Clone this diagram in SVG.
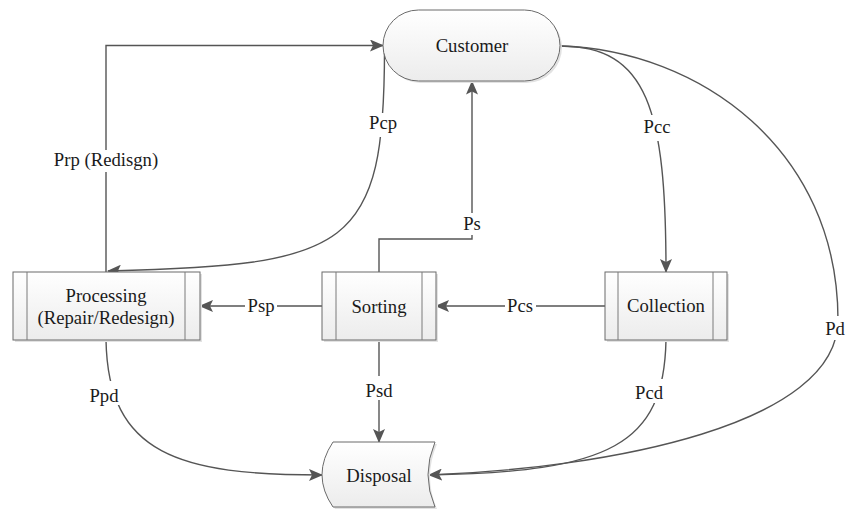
<svg xmlns="http://www.w3.org/2000/svg" width="857" height="509" viewBox="0 0 857 509">
  <defs>
    <linearGradient id="nodeFill" x1="0" y1="0" x2="0" y2="1">
      <stop offset="0" stop-color="#ffffff"/>
      <stop offset="1" stop-color="#ececec"/>
    </linearGradient>
    <marker id="arrow" markerUnits="userSpaceOnUse" markerWidth="14" markerHeight="12" viewBox="0 0 14 12" refX="13" refY="6" orient="auto">
      <path d="M0,0 L14,6 L0,12 L3,6 Z" fill="#555555"/>
    </marker>
  </defs>
  <style>
    .shape { fill: url(#nodeFill); stroke: #6b6b6b; stroke-width: 1; }
    .shadow { fill: #e2e2e2; stroke: none; }
    .inner { stroke: #7a7a7a; stroke-width: 1; fill: none; }
    .edge { fill: none; stroke: #555555; stroke-width: 1.4; }
    .arrowed { marker-end: url(#arrow); }
    .lbl-bg { fill: #ffffff; stroke: none; }
    text { font-family: "Liberation Serif", "Times New Roman", serif; font-size: 18.7px; fill: #1a1a1a; text-anchor: middle; }
  </style>

  <rect width="857" height="509" fill="#ffffff"/>

  <!-- connectors -->
  <g id="connectors">
    <!-- Prp (Redisgn): Processing -> Customer -->
    <path class="edge arrowed" d="M106,272 L106,45.5 L383,45.5"/>
    <!-- Pcp: Customer -> Processing -->
    <path class="edge arrowed" d="M384.5,46 C385,250 350,265 108,271"/>
    <!-- Ps: Sorting -> Customer -->
    <path class="edge arrowed" d="M379,272 L379,239 L472,239 L472,81.5"/>
    <!-- Pcc: Customer -> Collection -->
    <path class="edge arrowed" d="M560,46 C648,46 666,110 666,272"/>
    <!-- Pd: Customer -> Disposal -->
    <path class="edge arrowed" d="M560,46 C700,50 838,150 838,320 C838,425 610,468 429,475"/>
    <!-- Pcs: Collection -> Sorting -->
    <path class="edge arrowed" d="M605,306 L436,306"/>
    <!-- Psp: Sorting -> Processing -->
    <path class="edge arrowed" d="M322,306 L200,306"/>
    <!-- Ppd: Processing -> Disposal -->
    <path class="edge arrowed" d="M106,340 C108,455 180,475 322,475"/>
    <!-- Psd: Sorting -> Disposal -->
    <path class="edge arrowed" d="M379,340 L379,442"/>
    <!-- Pcd: Collection -> Disposal -->
    <path class="edge" d="M666,340 C664,445 610,472 429,475"/>

    <!-- connector labels on white patches that break the lines -->
    <g id="edge-labels">
      <rect class="lbl-bg" x="48" y="150" width="116" height="22"/>
      <text x="106" y="166">Prp (Redisgn)</text>
      <rect class="lbl-bg" x="368" y="113" width="30" height="24"/>
      <text x="383" y="129">Pcp</text>
      <rect class="lbl-bg" x="642" y="115" width="30" height="26"/>
      <text x="657" y="133">Pcc</text>
      <rect class="lbl-bg" x="461" y="213" width="22" height="22"/>
      <text x="472" y="230">Ps</text>
      <rect class="lbl-bg" x="245" y="296" width="32" height="20"/>
      <text x="261" y="312">Psp</text>
      <rect class="lbl-bg" x="505" y="296" width="31" height="20"/>
      <text x="520" y="312">Pcs</text>
      <rect class="lbl-bg" x="87" y="381" width="33" height="24"/>
      <text x="104" y="402">Ppd</text>
      <rect class="lbl-bg" x="362" y="376" width="34" height="24"/>
      <text x="379" y="397">Psd</text>
      <rect class="lbl-bg" x="632" y="379" width="34" height="24"/>
      <text x="649" y="399">Pcd</text>
      <rect class="lbl-bg" x="823" y="316" width="25" height="24"/>
      <text x="835" y="335">Pd</text>
    </g>
  </g>

  <!-- Customer -->
  <g id="customer">
    <rect class="shadow" x="385" y="12" width="177" height="71" rx="35.5" ry="35.5"/>
    <rect class="shape" x="383" y="10" width="177" height="71" rx="35.5" ry="35.5"/>
    <text x="472" y="52">Customer</text>
  </g>

  <!-- Processing -->
  <g id="processing">
    <rect class="shadow" x="15" y="274" width="187" height="68"/>
    <rect class="shape" x="13" y="272" width="187" height="68"/>
    <line class="inner" x1="27" y1="272" x2="27" y2="340"/>
    <line class="inner" x1="185" y1="272" x2="185" y2="340"/>
    <text x="106" y="302">Processing</text>
    <text x="106" y="324">(Repair/Redesign)</text>
  </g>

  <!-- Sorting -->
  <g id="sorting">
    <rect class="shadow" x="324" y="274" width="114" height="68"/>
    <rect class="shape" x="322" y="272" width="114" height="68"/>
    <line class="inner" x1="336" y1="272" x2="336" y2="340"/>
    <line class="inner" x1="422" y1="272" x2="422" y2="340"/>
    <text x="379" y="313">Sorting</text>
  </g>

  <!-- Collection -->
  <g id="collection">
    <rect class="shadow" x="607" y="274" width="122" height="68"/>
    <rect class="shape" x="605" y="272" width="122" height="68"/>
    <line class="inner" x1="618" y1="272" x2="618" y2="340"/>
    <line class="inner" x1="713" y1="272" x2="713" y2="340"/>
    <text x="666" y="312">Collection</text>
  </g>

  <!-- Disposal -->
  <g id="disposal">
    <path class="shadow" d="M335,444 L437,444 Q423,477 437,509 L335,509 Q313,477 335,444 Z"/>
    <path class="shape" d="M333,442 L435,442 Q421,475 435,507 L333,507 Q311,475 333,442 Z"/>
    <text x="379" y="482">Disposal</text>
  </g>
</svg>
